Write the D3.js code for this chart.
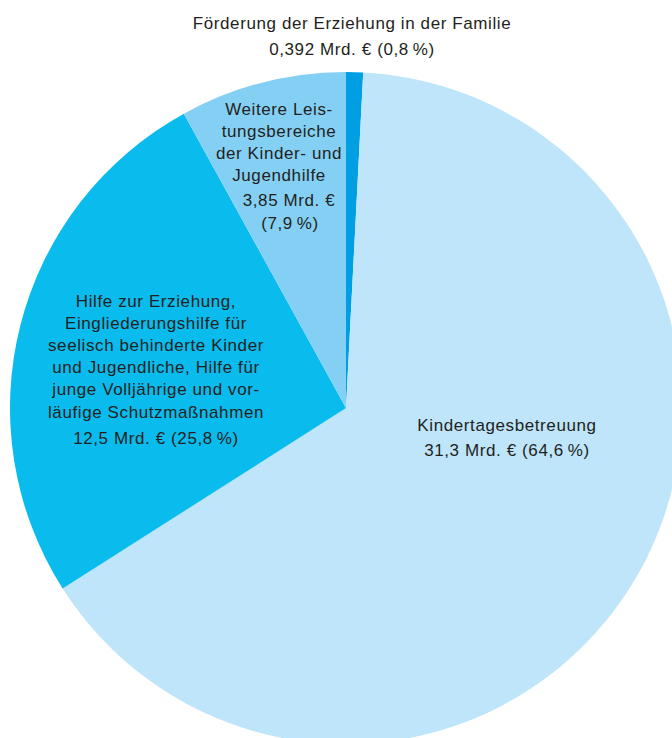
<!DOCTYPE html>
<html>
<head>
<meta charset="utf-8">
<script src="https://cdn.jsdelivr.net/npm/d3@7"></script>
<style>
  html, body { margin: 0; padding: 0; background: #ffffff; }
  svg { display: block; }
  text { font-family: "Liberation Sans", Arial, Helvetica, sans-serif; fill: #231f20; }
</style>
</head>
<body>
<svg id="chart" width="672" height="738"></svg>
<script>
// ---- data ----
const categories = [
  "Förderung der Erziehung in der Familie",
  "Kindertagesbetreuung",
  "Hilfe zur Erziehung, Eingliederungshilfe für seelisch behinderte Kinder und Jugendliche, Hilfe für junge Volljährige und vorläufige Schutzmaßnahmen",
  "Weitere Leistungsbereiche der Kinder- und Jugendhilfe"
];
const valuesMrd = [0.392, 31.3, 12.5, 3.85];
const valueLabels = ["0,392 Mrd. €", "31,3 Mrd. €", "12,5 Mrd. €", "3,85 Mrd. €"];
const percentLabels = ["0,8\u2009%", "64,6\u2009%", "25,8\u2009%", "7,9\u2009%"];
const labelLines = [
  ["Förderung der Erziehung in der Familie", valueLabels[0] + " (" + percentLabels[0] + ")"],
  ["Kindertagesbetreuung", valueLabels[1] + " (" + percentLabels[1] + ")"],
  ["Hilfe zur Erziehung,", "Eingliederungshilfe für", "seelisch behinderte Kinder", "und Jugendliche, Hilfe für", "junge Volljährige und vor-", "läufige Schutzmaßnahmen", valueLabels[2] + " (" + percentLabels[2] + ")"],
  ["Weitere Leis-", "tungsbereiche", "der Kinder- und", "Jugendhilfe", valueLabels[3], "(" + percentLabels[3] + ")"]
];

// ---- styles / layout ----
const colors = ["#009ee2", "#bee5fa", "#0abbee", "#84d0f4"];
const W = 672, H = 738;
const cx = 346, cy = 408, R = 336;
const fontSize = 17, letterSpacing = 0.6;
// label placement: per-line [x, baseline y]
const labelPos = [
  [[352, 29], [352, 55]],
  [[507, 431], [507, 456]],
  [[156, 307], [156, 329], [156, 351], [156, 373], [156, 395], [156, 418], [156, 444]],
  [[279, 115], [279, 137], [279, 159], [279, 181], [289, 206], [290, 229]]
];

const svg = d3.select("#chart");
const data = valuesMrd.map((v, i) => ({ name: categories[i], value: v, i }));

const pie = d3.pie().sort(null).value(d => d.value).startAngle(0).endAngle(2 * Math.PI);
const arc = d3.arc().innerRadius(0).outerRadius(R);

const g = svg.append("g").attr("transform", `translate(${cx},${cy})`);
g.selectAll("path")
  .data(pie(data))
  .join("path")
  .attr("d", arc)
  .attr("fill", d => colors[d.data.i]);

const labels = svg.append("g");
labelLines.forEach((lines, i) => {
  lines.forEach((line, j) => {
    labels.append("text")
      .attr("x", labelPos[i][j][0])
      .attr("y", labelPos[i][j][1])
      .attr("text-anchor", "middle")
      .style("font-size", fontSize + "px")
      .style("letter-spacing", letterSpacing + "px")
      .text(line);
  });
});
</script>
</body>
</html>
